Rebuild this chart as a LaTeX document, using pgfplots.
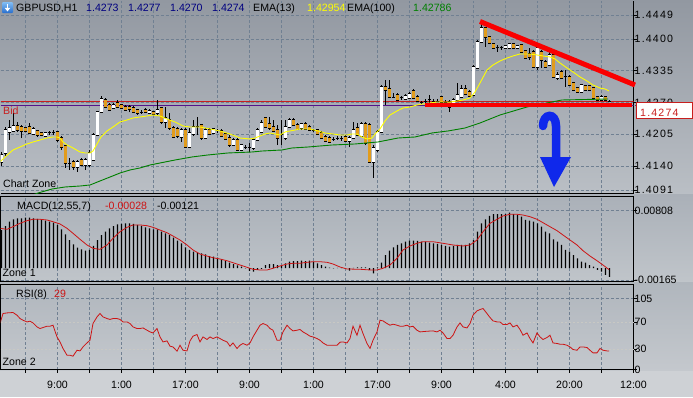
\documentclass[border=0pt]{standalone}
\usepackage{fontspec}
\setmainfont{Liberation Sans}
\usepackage{pgfplots}
\usepackage{pgfplotstable}
\pgfplotsset{compat=1.18}

\definecolor{gridc}{RGB}{112,128,146}
\definecolor{bearc}{RGB}{226,156,28}
\definecolor{emay}{RGB}{255,255,0}
\definecolor{emag}{RGB}{0,128,0}
\definecolor{navyc}{RGB}{0,0,128}
\definecolor{bidred}{RGB}{200,30,30}
\definecolor{purp}{RGB}{85,20,140}
\definecolor{sigred}{RGB}{205,20,20}
\definecolor{arrowb}{RGB}{15,40,235}
\definecolor{trendred}{RGB}{250,0,0}
\definecolor{rsilev}{RGB}{200,200,196}
\definecolor{mainTop}{RGB}{146,152,161}
\definecolor{mainBot}{RGB}{186,191,197}
\definecolor{macdTop}{RGB}{170,176,184}
\definecolor{macdBot}{RGB}{192,197,202}
\definecolor{rsiTop}{RGB}{176,182,189}
\definecolor{rsiBot}{RGB}{196,200,205}
\definecolor{botc}{RGB}{206,209,213}

\newcommand\fs{\fontsize{10.6pt}{12pt}\selectfont}
\newcommand\fsw{\fontsize{10.6pt}{12pt}\selectfont\addfontfeature{LetterSpace=11}}

\pgfplotstableread{
x o h l c
1.5 1.41482 1.41687 1.41401 1.41626
5.5 1.41667 1.42199 1.41585 1.42137
9.5 1.42096 1.42342 1.41933 1.42178
13.5 1.42117 1.42485 1.42096 1.42219
33.5 1.42055 1.42199 1.42035 1.42158
45.5 1.42014 1.42096 1.41994 1.42076
77.5 1.41380 1.41523 1.41278 1.41482
85.5 1.41421 1.41564 1.41319 1.41523
89.5 1.41421 1.41728 1.41380 1.41667
93.5 1.41523 1.42076 1.41503 1.42035
97.5 1.42035 1.42526 1.42014 1.42505
101.5 1.42505 1.42833 1.42485 1.42771
113.5 1.42587 1.42690 1.42567 1.42649
149.5 1.42485 1.42567 1.42465 1.42526
157.5 1.42485 1.42751 1.42424 1.42546
165.5 1.42301 1.42608 1.42178 1.42383
181.5 1.41994 1.42178 1.41892 1.42137
189.5 1.41789 1.42178 1.41769 1.42076
193.5 1.42055 1.42342 1.42014 1.42199
205.5 1.41973 1.42178 1.41953 1.42137
213.5 1.42076 1.42178 1.42055 1.42158
233.5 1.41830 1.41973 1.41810 1.41933
241.5 1.41728 1.41851 1.41707 1.41830
253.5 1.41769 1.41973 1.41728 1.41933
257.5 1.41933 1.42178 1.41912 1.42137
261.5 1.42096 1.42342 1.42076 1.42280
285.5 1.41973 1.42342 1.41933 1.42199
289.5 1.42199 1.42383 1.42178 1.42342
301.5 1.42178 1.42280 1.42137 1.42260
349.5 1.41912 1.42014 1.41789 1.41973
353.5 1.41973 1.42301 1.41953 1.42137
361.5 1.42014 1.42301 1.41994 1.42260
373.5 1.41482 1.41830 1.41155 1.41769
377.5 1.41728 1.42137 1.41687 1.42096
381.5 1.42096 1.43058 1.42076 1.43017
405.5 1.42771 1.42874 1.42751 1.42833
409.5 1.42792 1.42915 1.42771 1.42874
453.5 1.42690 1.42792 1.42669 1.42751
457.5 1.42751 1.43099 1.42730 1.42853
461.5 1.42812 1.43058 1.42792 1.42976
473.5 1.42853 1.43467 1.42833 1.43426
477.5 1.43406 1.43979 1.43385 1.43938
481.5 1.43938 1.44347 1.43917 1.44224
505.5 1.43815 1.43876 1.43794 1.43856
509.5 1.43815 1.43917 1.43794 1.43897
517.5 1.43815 1.43876 1.43794 1.43856
537.5 1.43426 1.43856 1.43365 1.43815
549.5 1.43467 1.43733 1.43447 1.43672
557.5 1.43201 1.43324 1.43160 1.43262
581.5 1.42915 1.43078 1.42894 1.43058
601.5 1.42751 1.42853 1.42730 1.42812
}\bull

\pgfplotstableread{
x o h l c
17.5 1.42219 1.42301 1.42096 1.42137
21.5 1.42199 1.42239 1.41973 1.42117
25.5 1.42178 1.42199 1.42096 1.42117
29.5 1.42199 1.42280 1.42055 1.42076
37.5 1.42117 1.42137 1.41994 1.42035
41.5 1.42076 1.42096 1.42014 1.42035
57.5 1.42096 1.42117 1.41892 1.41933
61.5 1.41973 1.42014 1.41728 1.41789
65.5 1.41810 1.41830 1.41360 1.41462
73.5 1.41482 1.41523 1.41319 1.41380
81.5 1.41523 1.41564 1.41401 1.41421
105.5 1.42751 1.42792 1.42587 1.42608
109.5 1.42649 1.42690 1.42526 1.42546
117.5 1.42690 1.42751 1.42587 1.42608
121.5 1.42649 1.42669 1.42567 1.42587
125.5 1.42608 1.42649 1.42526 1.42546
129.5 1.42608 1.42649 1.42505 1.42567
133.5 1.42587 1.42628 1.42485 1.42505
137.5 1.42546 1.42567 1.42444 1.42485
145.5 1.42546 1.42587 1.42485 1.42505
153.5 1.42505 1.42526 1.42444 1.42465
161.5 1.42587 1.42608 1.42260 1.42301
169.5 1.42342 1.42485 1.42137 1.42178
173.5 1.42178 1.42219 1.41973 1.41994
177.5 1.42158 1.42199 1.41973 1.42014
185.5 1.42137 1.42178 1.41769 1.41789
201.5 1.42239 1.42260 1.41933 1.41973
209.5 1.42137 1.42178 1.42035 1.42055
221.5 1.42117 1.42158 1.41994 1.42014
225.5 1.42055 1.42096 1.41933 1.41953
229.5 1.41973 1.42035 1.41789 1.41830
237.5 1.41933 1.41973 1.41707 1.41728
265.5 1.42383 1.42403 1.42178 1.42199
269.5 1.42260 1.42403 1.42137 1.42178
273.5 1.42199 1.42342 1.42096 1.42117
277.5 1.42137 1.42239 1.41830 1.41973
293.5 1.42342 1.42383 1.42219 1.42239
297.5 1.42239 1.42280 1.42137 1.42158
305.5 1.42260 1.42301 1.42137 1.42158
309.5 1.42199 1.42239 1.42117 1.42137
317.5 1.42137 1.42158 1.42035 1.42055
321.5 1.42076 1.42117 1.41953 1.41973
325.5 1.41994 1.42035 1.41892 1.41912
329.5 1.41973 1.42014 1.41871 1.41892
345.5 1.41994 1.42035 1.41892 1.41912
357.5 1.42178 1.42280 1.42014 1.42035
365.5 1.42260 1.42301 1.41830 1.41871
369.5 1.42239 1.42280 1.41462 1.41482
385.5 1.43017 1.43160 1.42649 1.42956
389.5 1.42976 1.43160 1.42792 1.42812
397.5 1.42853 1.42894 1.42730 1.42751
413.5 1.42935 1.42976 1.42771 1.42792
417.5 1.42812 1.42853 1.42710 1.42730
441.5 1.42812 1.42833 1.42690 1.42710
449.5 1.42710 1.42751 1.42505 1.42608
465.5 1.42976 1.43058 1.42853 1.42874
469.5 1.42915 1.42956 1.42812 1.42833
485.5 1.44224 1.44245 1.43835 1.44040
489.5 1.44040 1.44060 1.43897 1.43917
493.5 1.43897 1.43917 1.43794 1.43815
513.5 1.43897 1.43917 1.43794 1.43815
521.5 1.43876 1.43897 1.43713 1.43733
525.5 1.43753 1.43774 1.43590 1.43610
529.5 1.43692 1.43815 1.43569 1.43631
533.5 1.43733 1.43774 1.43406 1.43426
541.5 1.43733 1.43774 1.43406 1.43569
545.5 1.43528 1.43569 1.43406 1.43426
553.5 1.43672 1.43713 1.43201 1.43222
561.5 1.43324 1.43365 1.43181 1.43201
569.5 1.43222 1.43262 1.43037 1.43058
573.5 1.43099 1.43119 1.42935 1.42956
577.5 1.42996 1.43017 1.42894 1.42915
585.5 1.43037 1.43058 1.42935 1.42956
589.5 1.43037 1.43058 1.42935 1.42956
593.5 1.42996 1.43017 1.42771 1.42792
597.5 1.42812 1.42833 1.42730 1.42751
605.5 1.42812 1.42833 1.42730 1.42751
}\bear

\pgfplotstableread{
x o h l c
49.5 1.42076 1.42117 1.42035 1.42076
53.5 1.42076 1.42137 1.42035 1.42076
69.5 1.41462 1.41564 1.41319 1.41462
141.5 1.42505 1.42546 1.42465 1.42505
197.5 1.42199 1.42403 1.42035 1.42199
217.5 1.42117 1.42158 1.42076 1.42117
245.5 1.41789 1.41830 1.41748 1.41789
249.5 1.41789 1.41871 1.41687 1.41789
281.5 1.42035 1.42342 1.41830 1.42035
313.5 1.42117 1.42158 1.42096 1.42117
333.5 1.41953 1.41994 1.41912 1.41953
337.5 1.41973 1.42014 1.41933 1.41973
341.5 1.41973 1.42014 1.41912 1.41973
393.5 1.42812 1.42894 1.42792 1.42812
401.5 1.42792 1.42833 1.42751 1.42792
421.5 1.42690 1.42730 1.42669 1.42690
425.5 1.42730 1.42771 1.42690 1.42730
429.5 1.42751 1.42853 1.42690 1.42751
433.5 1.42730 1.42771 1.42690 1.42730
437.5 1.42730 1.42771 1.42710 1.42730
445.5 1.42710 1.42751 1.42690 1.42710
497.5 1.43815 1.43876 1.43733 1.43815
501.5 1.43815 1.43856 1.43774 1.43815
565.5 1.43222 1.43365 1.43017 1.43222
609.5 1.42730 1.42751 1.42710 1.42730
}\doji

\pgfplotstableread{
x v
0 1.41482
5 1.41585
13 1.41728
20 1.41789
27 1.41851
33 1.41892
40 1.41933
47 1.41973
53 1.41994
57 1.41994
60 1.41973
63 1.41892
67 1.41830
73 1.41769
80 1.41687
85 1.41667
90 1.41667
93 1.41707
97 1.41851
101 1.41994
107 1.42117
113 1.42199
120 1.42301
127 1.42342
133 1.42383
140 1.42403
147 1.42424
153 1.42444
160 1.42424
167 1.42362
175 1.42301
183 1.42219
190 1.42199
200 1.42199
210 1.42158
220 1.42117
230 1.42055
240 1.41973
250 1.41953
255 1.41973
260 1.42014
265 1.42055
270 1.42076
275 1.42055
280 1.42035
285 1.42096
290 1.42117
295 1.42137
300 1.42158
310 1.42158
318 1.42117
325 1.42076
333 1.42055
340 1.42035
347 1.42035
352 1.42055
357 1.42055
362 1.41994
367 1.41953
372 1.41973
375 1.42055
380 1.42158
385 1.42321
390 1.42444
397 1.42526
403 1.42587
410 1.42608
417 1.42649
423 1.42669
430 1.42690
437 1.42710
443 1.42710
450 1.42710
457 1.42730
463 1.42751
470 1.42792
475 1.42915
480 1.43099
487 1.43365
493 1.43467
500 1.43549
507 1.43610
513 1.43651
520 1.43692
530 1.43692
537 1.43672
543 1.43651
550 1.43631
555 1.43590
560 1.43508
567 1.43406
573 1.43324
580 1.43222
587 1.43140
593 1.43058
600 1.42996
605 1.42976
609 1.42935
}\emaA

\pgfplotstableread{
x v
30 1.40787
38 1.40848
52 1.40930
65 1.40971
80 1.40991
90 1.41012
100 1.41094
110 1.41175
120 1.41257
130 1.41319
140 1.41360
150 1.41421
160 1.41462
175 1.41523
192 1.41585
208 1.41626
228 1.41667
252 1.41687
262 1.41707
282 1.41728
292 1.41769
308 1.41789
320 1.41810
332 1.41830
355 1.41851
378 1.41892
398 1.41973
415 1.41994
432 1.42076
448 1.42117
465 1.42178
480 1.42280
500 1.42444
527 1.42608
547 1.42690
562 1.42751
608 1.42771
}\emaB

\pgfplotstableread{
x v
1.5 0.00536
5.5 0.00592
9.5 0.00653
13.5 0.00687
17.5 0.00701
21.5 0.00701
25.5 0.00709
29.5 0.00709
33.5 0.00701
37.5 0.00691
41.5 0.00687
45.5 0.00667
49.5 0.00653
53.5 0.00639
57.5 0.00607
61.5 0.00546
65.5 0.00476
69.5 0.00396
73.5 0.00336
77.5 0.00288
81.5 0.00265
85.5 0.00246
89.5 0.00256
93.5 0.00312
97.5 0.00396
101.5 0.00466
105.5 0.00512
109.5 0.00560
113.5 0.00592
117.5 0.00616
121.5 0.00621
125.5 0.00630
129.5 0.00630
133.5 0.00621
137.5 0.00607
141.5 0.00592
145.5 0.00574
149.5 0.00560
153.5 0.00546
157.5 0.00546
161.5 0.00512
165.5 0.00490
169.5 0.00466
173.5 0.00428
177.5 0.00386
181.5 0.00350
185.5 0.00293
189.5 0.00256
193.5 0.00232
197.5 0.00218
201.5 0.00209
205.5 0.00195
209.5 0.00171
213.5 0.00161
217.5 0.00147
221.5 0.00125
225.5 0.00101
229.5 0.00077
233.5 0.00059
237.5 0.00041
241.5 0.00021
245.5 -0.00002
249.5 -0.00039
253.5 -0.00049
257.5 -0.00025
261.5 -0.00011
265.5 0.00045
269.5 0.00059
273.5 0.00059
277.5 0.00045
281.5 0.00045
285.5 0.00069
289.5 0.00091
293.5 0.00101
297.5 0.00101
301.5 0.00105
305.5 0.00101
309.5 0.00105
313.5 0.00091
317.5 0.00069
321.5 0.00045
325.5 0.00021
329.5 0.00007
333.5 -0.00002
337.5 0.00003
341.5 0.00013
345.5 -0.00003
349.5 -0.00035
353.5 0.00003
357.5 0.00013
361.5 0.00013
365.5 0.00013
369.5 -0.00025
373.5 -0.00072
377.5 0.00010
381.5 0.00077
385.5 0.00185
389.5 0.00246
393.5 0.00293
397.5 0.00326
401.5 0.00350
405.5 0.00372
409.5 0.00386
413.5 0.00386
417.5 0.00382
421.5 0.00372
425.5 0.00372
429.5 0.00358
433.5 0.00350
437.5 0.00340
441.5 0.00326
445.5 0.00312
449.5 0.00302
453.5 0.00312
457.5 0.00326
461.5 0.00326
465.5 0.00326
469.5 0.00350
473.5 0.00396
477.5 0.00512
481.5 0.00630
485.5 0.00687
489.5 0.00733
493.5 0.00761
497.5 0.00761
501.5 0.00761
505.5 0.00761
509.5 0.00779
513.5 0.00761
517.5 0.00747
521.5 0.00723
525.5 0.00677
529.5 0.00667
533.5 0.00653
537.5 0.00630
541.5 0.00583
545.5 0.00512
549.5 0.00490
553.5 0.00406
557.5 0.00372
561.5 0.00326
565.5 0.00256
569.5 0.00232
573.5 0.00185
577.5 0.00139
581.5 0.00091
585.5 0.00077
589.5 0.00045
593.5 0.00021
597.5 -0.00025
601.5 -0.00049
605.5 -0.00095
609.5 -0.00121
}\macdh

\pgfplotstableread{
x v
0 0.00560
7 0.00546
13 0.00583
20 0.00630
27 0.00667
33 0.00687
40 0.00687
47 0.00677
53 0.00653
60 0.00621
67 0.00560
73 0.00490
80 0.00406
87 0.00326
93 0.00279
100 0.00265
107 0.00326
113 0.00420
120 0.00512
127 0.00574
133 0.00607
140 0.00607
147 0.00597
153 0.00574
160 0.00536
167 0.00498
173 0.00452
180 0.00396
187 0.00326
193 0.00256
200 0.00199
207 0.00171
213 0.00147
220 0.00129
227 0.00105
233 0.00077
240 0.00045
247 0.00013
253 -0.00015
260 -0.00025
267 -0.00025
273 -0.00001
280 0.00031
287 0.00059
293 0.00069
300 0.00069
307 0.00083
313 0.00091
320 0.00091
327 0.00083
333 0.00059
340 0.00017
347 -0.00011
360 -0.00015
370 -0.00025
377 -0.00025
383 -0.00001
390 0.00045
397 0.00139
403 0.00256
410 0.00312
417 0.00350
423 0.00372
433 0.00372
443 0.00350
453 0.00326
463 0.00312
470 0.00326
477 0.00396
483 0.00512
490 0.00630
497 0.00687
503 0.00733
510 0.00757
517 0.00757
523 0.00747
530 0.00723
537 0.00687
543 0.00639
550 0.00583
557 0.00527
563 0.00466
570 0.00396
577 0.00326
583 0.00246
590 0.00171
597 0.00105
603 0.00045
609 -0.00020
}\macds

\pgfplotstableread{
x v
0 68.0
3 82.8
7 83.7
13 84.3
17 80.3
20 75.4
23 72.9
27 70.4
30 71.4
33 68.9
37 63.0
40 60.6
43 62.1
47 64.0
50 64.0
53 65.5
57 48.2
60 40.8
63 31.1
67 21.1
70 21.1
73 19.7
77 28.5
80 27.5
83 33.4
87 39.3
90 43.3
93 68.0
97 77.8
100 82.8
103 77.8
107 75.4
110 74.0
113 75.4
117 75.4
120 74.0
123 70.4
127 70.4
130 68.0
133 63.0
137 60.6
140 60.6
143 61.5
147 58.1
150 55.6
153 54.1
157 60.6
160 48.2
163 40.8
167 42.3
170 34.5
173 33.4
177 27.1
180 35.9
183 28.5
187 27.5
190 42.3
193 49.3
197 51.8
200 40.8
203 48.2
207 44.4
210 48.2
213 45.8
217 48.2
220 45.8
223 43.3
227 40.8
230 34.5
233 39.3
237 31.1
240 35.9
243 38.5
247 35.9
250 39.3
253 48.2
257 58.1
260 65.5
263 68.0
267 65.5
270 60.6
273 58.1
277 43.3
280 43.3
283 55.6
287 65.5
290 60.6
293 57.1
297 58.1
300 59.2
303 55.6
307 52.2
310 49.3
313 48.2
317 45.8
320 43.3
323 39.3
327 35.9
330 35.9
333 35.9
337 35.9
340 40.4
343 40.8
347 39.3
350 45.8
353 64.0
357 50.7
360 65.5
363 53.2
367 38.5
370 31.1
373 43.3
377 55.6
380 72.9
383 71.9
387 68.0
390 65.5
393 67.0
397 65.5
400 64.0
403 64.0
407 65.5
410 63.0
413 64.0
417 58.1
420 55.6
427 56.6
433 57.1
437 55.6
440 58.1
443 54.1
447 45.8
450 45.8
453 50.7
457 63.0
460 68.9
463 63.0
467 61.5
470 68.0
473 80.3
477 86.7
480 88.7
483 90.2
487 82.8
490 76.9
493 71.9
497 70.4
500 70.4
503 66.6
507 66.6
510 68.9
513 63.0
517 65.5
520 59.2
523 50.7
527 54.1
530 45.8
533 39.3
537 54.1
540 48.2
543 44.4
547 47.3
550 50.7
553 39.3
557 38.5
560 37.4
563 37.4
567 35.9
570 33.4
573 29.6
577 28.5
580 33.4
583 33.4
587 32.5
590 28.5
593 24.6
597 24.6
600 31.1
603 28.5
607 27.5
609 27.5
}\rsi

\pgfplotsset{
  panel/.style={
    scale only axis, width=633pt, xmin=0.5, xmax=633.5,
    axis line style={black, line width=0.8pt},
    xtick={25.5,57.5,89.5,121.5,153.5,185.5,217.5,249.5,281.5,313.5,345.5,377.5,409.5,441.5,473.5,505.5,537.5,569.5,601.5,633.5},
    xmajorgrids, ymajorgrids,
    major grid style={draw=gridc, line width=0.7pt, dash pattern=on 3pt off 2pt},
    ytick pos=right, tick align=outside, major tick length=3pt,
    tick style={black, line width=0.7pt},
    tick label style={font=\fs, text=black},
    yticklabel style={anchor=west, inner sep=0pt, xshift=-2pt},
    scaled y ticks=false, scaled x ticks=false,
    clip=true,
  },
  wickst/.style={draw=none, mark=none, forget plot, error bars/.cd, y dir=plus, y explicit, error mark=none, error bar style={draw=black, line width=0.7pt}},
  boxst/.style={draw=none, mark=none, forget plot, error bars/.cd, y dir=plus, y explicit, error mark=none, error bar style={draw=black, line width=3.8pt}},
  fillst/.style={draw=none, mark=none, forget plot, error bars/.cd, y dir=plus, y explicit, error mark=none, error bar style={draw=#1, line width=2.1pt}},
}

\begin{document}
\begin{tikzpicture}[x=1pt,y=1pt]
\useasboundingbox (0pt,0pt) rectangle (693pt,-397pt);
\shade[top color=mainTop, bottom color=mainBot] (0pt,0pt) rectangle (693pt,-194.5pt);
\shade[top color=macdTop, bottom color=macdBot] (0pt,-194.5pt) rectangle (693pt,-282.5pt);
\shade[top color=rsiTop, bottom color=rsiBot] (0pt,-282.5pt) rectangle (693pt,-370.5pt);
\fill[botc] (0pt,-370.5pt) rectangle (693pt,-397pt);

% ---------- main panel ----------
\begin{axis}[panel, at={(0.5pt,-193pt)}, anchor=south west, height=192pt,
  axis x line*=bottom, axis y line*=right,
  xmajorticks=false,
  ymin=1.40848, ymax=1.44776,
  yticklabel style={font=\fsw},
  ytick={1.4091,1.4140,1.4205,1.4270,1.4335,1.4400,1.4449},
  yticklabels={1.4091,1.4140,1.4205,1.4270,1.4335,1.4400,1.4449}]
  \addplot[bidred, line width=0.8pt] coordinates {(0.5,1.42730) (633.5,1.42730)};
  \addplot[purp, line width=0.8pt] coordinates {(0.5,1.42649) (633.5,1.42649)};
  \addplot[wickst] table[x=x, y=l, y error plus expr={\thisrow{h}-\thisrow{l}}] {\bull};
  \addplot[wickst] table[x=x, y=l, y error plus expr={\thisrow{h}-\thisrow{l}}] {\bear};
  \addplot[wickst] table[x=x, y=l, y error plus expr={\thisrow{h}-\thisrow{l}}] {\doji};
  \addplot[boxst] table[x=x, y expr={min(\thisrow{o},\thisrow{c})-0.00016}, y error plus expr={abs(\thisrow{o}-\thisrow{c})+0.00032}] {\bull};
  \addplot[boxst] table[x=x, y expr={min(\thisrow{o},\thisrow{c})-0.00016}, y error plus expr={abs(\thisrow{o}-\thisrow{c})+0.00032}] {\bear};
  \addplot[boxst] table[x=x, y expr={\thisrow{o}-0.0001}, y error plus expr={0.0002}] {\doji};
  \addplot[fillst=white] table[x=x, y expr={min(\thisrow{o},\thisrow{c})}, y error plus expr={abs(\thisrow{o}-\thisrow{c})}] {\bull};
  \addplot[fillst=bearc] table[x=x, y expr={min(\thisrow{o},\thisrow{c})}, y error plus expr={abs(\thisrow{o}-\thisrow{c})}] {\bear};
  \addplot[emag, line width=0.9pt] table[x=x, y=v] {\emaB};
  \addplot[emay, line width=0.9pt] table[x=x, y=v] {\emaA};
\end{axis}

% ---------- MACD panel ----------
\begin{axis}[panel, at={(0.5pt,-281pt)}, anchor=south west, height=85pt,
  xmajorticks=false,
  ymin=-0.001797, ymax=0.010137,
  ytick={-0.00165,0.00808},
  yticklabels={-0.00165,0.00808}]
  \addplot[ybar, bar width=1.1pt, fill=black, draw=none] table[x=x, y=v] {\macdh};
  \addplot[sigred, line width=0.8pt] table[x=x, y=v] {\macds};
\end{axis}

% ---------- RSI panel ----------
\begin{axis}[panel, at={(0.5pt,-369.5pt)}, anchor=south west, height=85pt,
  xtick pos=bottom,
  xticklabels={,9:00,,1:00,,17:00,,9:00,,1:00,,17:00,,9:00,,4:00,,20:00,,12:00},
  xticklabel style={anchor=north, inner sep=0pt, yshift=-8pt},
  ymin=0, ymax=125.7,
  ytick={0,105}, yticklabels={0,105},
  extra y ticks={30,70}, extra y tick labels={30,70},
  extra y tick style={major grid style={draw=rsilev, line width=0.7pt, dash pattern=on 2pt off 2pt}}]
  \addplot[sigred, line width=0.8pt] table[x=x, y=v] {\rsi};
\end{axis}

% ---------- drawn objects ----------
\draw[trendred, line width=5pt] (480pt,-21.5pt) -- (635pt,-85pt);
\draw[trendred, line width=4.5pt] (425pt,-105pt) -- (632pt,-105pt);
\draw[arrowb, line width=8.5pt, line cap=round] (543pt,-126pt) .. controls (543pt,-113pt) and (556pt,-112pt) .. (556pt,-126pt) -- (556pt,-159pt);
\fill[arrowb] (540pt,-157pt) -- (571pt,-157pt) -- (554pt,-187pt) -- cycle;

\draw[bidred, fill=white, line width=0.8pt] (636.5pt,-102pt) rectangle (692.5pt,-118pt);
\node[anchor=base west, inner sep=0pt, font=\fsw, text=bidred] at (640pt,-116pt) {1.4274};

\shade[top color={rgb,255:red,130;green,190;blue,245}, bottom color={rgb,255:red,40;green,110;blue,205}, rounded corners=1pt] (2pt,-2pt) rectangle (13pt,-13pt);
\fill[white] (6.6pt,-3.8pt) rectangle (8.4pt,-8.2pt);
\fill[white] (4.6pt,-7.8pt) -- (10.4pt,-7.8pt) -- (7.5pt,-11.4pt) -- cycle;
\node[anchor=base west, inner sep=0pt, font=\fs] at (16pt,-11.7pt) {GBPUSD,H1};
\node[anchor=base west, inner sep=0pt, font=\fs, text=navyc] at (86pt,-11.7pt) {1.4273};
\node[anchor=base west, inner sep=0pt, font=\fs, text=navyc] at (128pt,-11.7pt) {1.4277};
\node[anchor=base west, inner sep=0pt, font=\fs, text=navyc] at (170pt,-11.7pt) {1.4270};
\node[anchor=base west, inner sep=0pt, font=\fs, text=navyc] at (212pt,-11.7pt) {1.4274};
\node[anchor=base west, inner sep=0pt, font=\fs] at (253pt,-11.7pt) {EMA(13)};
\node[anchor=base west, inner sep=0pt, font=\fs, text=emay] at (307pt,-11.7pt) {1.42954};
\node[anchor=base west, inner sep=0pt, font=\fs] at (347pt,-11.7pt) {EMA(100)};
\node[anchor=base west, inner sep=0pt, font=\fs, text=emag] at (413pt,-11.7pt) {1.42786};
\node[anchor=base west, inner sep=0pt, font=\fs, text=bidred] at (3pt,-114pt) {Bid};
\node[anchor=base west, inner sep=0pt, font=\fs] at (3pt,-187.3pt) {Chart Zone};

\node[anchor=base west, inner sep=0pt, font=\fs] at (17pt,-209.5pt) {MACD(12,55,7)};
\node[anchor=base west, inner sep=0pt, font=\fs, text=sigred] at (105pt,-209.5pt) {-0.00028};
\node[anchor=base west, inner sep=0pt, font=\fs] at (157pt,-209.5pt) {-0.00121};
\node[anchor=base west, inner sep=0pt, font=\fs] at (2.5pt,-276pt) {Zone 1};

\node[anchor=base west, inner sep=0pt, font=\fs] at (16pt,-297pt) {RSI(8)};
\node[anchor=base west, inner sep=0pt, font=\fs, text=sigred] at (54pt,-297pt) {29};
\node[anchor=base west, inner sep=0pt, font=\fs] at (2.5pt,-365pt) {Zone 2};
\end{tikzpicture}
\end{document}
